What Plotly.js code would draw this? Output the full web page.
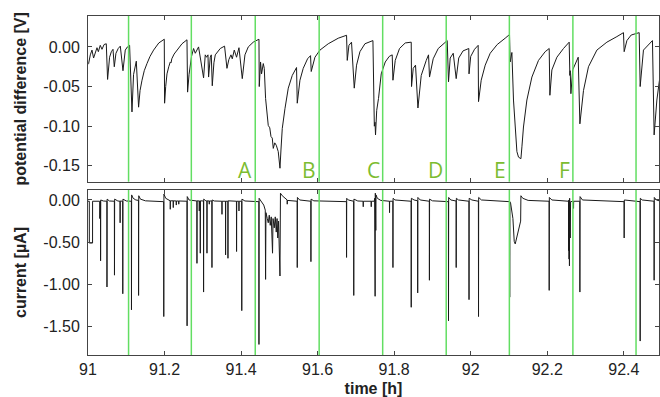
<!DOCTYPE html>
<html>
<head>
<meta charset="utf-8">
<script src="https://cdn.plot.ly/plotly-3.0.1.min.js"></script>
<style>html,body{margin:0;padding:0;background:#fff;}#chart{width:660px;height:397px;}</style>
</head>
<body>
<div id="chart"></div>
<script>
// ---- data: potential difference [V] vs time [h] ----
const potentialPts = [
[91.0000,-0.022],[91.0016,-0.021],[91.0060,-0.010],[91.0104,-0.004],[91.0146,-0.014],[91.0235,-0.001],
[91.0270,-0.006],[91.0320,0.002],[91.0366,-0.003],[91.0420,0.003],[91.0478,0.004],[91.0512,-0.041],
[91.0564,-0.013],[91.0610,-0.006],[91.0653,-0.003],[91.0687,-0.025],[91.0730,-0.008],[91.0790,-0.002],
[91.0844,0.001],[91.0914,-0.030],[91.0974,-0.004],[91.1030,0.000],[91.1087,0.002],[91.1149,-0.082],
[91.1190,-0.035],[91.1262,-0.018],[91.1322,-0.076],[91.1360,-0.055],[91.1411,-0.042],[91.1470,-0.030],
[91.1541,-0.021],[91.1620,-0.012],[91.1714,-0.004],[91.1850,0.005],[91.1993,0.0097],[91.2001,-0.071],
[91.2030,-0.050],[91.2064,-0.034],[91.2110,-0.025],[91.2150,-0.019],[91.2170,-0.020],[91.2190,-0.015],
[91.2250,-0.009],[91.2325,-0.004],[91.2456,0.004],[91.2586,0.009],[91.2602,-0.057],[91.2640,-0.035],
[91.2705,-0.012],[91.2759,-0.002],[91.2803,-0.008],[91.2889,0.000],[91.3020,-0.039],[91.3064,-0.010],
[91.3100,-0.013],[91.3135,-0.010],[91.3151,-0.038],[91.3195,-0.013],[91.3221,-0.010],[91.3247,-0.049],
[91.3290,-0.020],[91.3326,-0.010],[91.3456,-0.002],[91.3568,0.001],[91.3631,-0.027],[91.3680,-0.016],
[91.3736,-0.010],[91.3770,-0.015],[91.3822,-0.004],[91.3882,-0.013],[91.3945,-0.001],[91.4031,-0.040],
[91.4070,-0.018],[91.4101,-0.010],[91.4188,0.000],[91.4318,0.006],[91.4467,0.0097],[91.4475,-0.050],
[91.4509,-0.019],[91.4535,-0.034],[91.4580,-0.021],[91.4606,-0.027],[91.4640,-0.065],[91.4666,-0.082],
[91.4684,-0.086],[91.4710,-0.099],[91.4749,-0.102],[91.4781,-0.113],[91.4815,-0.115],[91.4841,-0.128],
[91.4880,-0.121],[91.4919,-0.124],[91.4971,-0.132],[91.5016,-0.153],[91.5042,-0.130],[91.5076,-0.103],
[91.5146,-0.078],[91.5233,-0.052],[91.5337,-0.036],[91.5449,-0.026],[91.5468,-0.071],[91.5538,-0.042],
[91.5624,-0.027],[91.5737,-0.015],[91.5815,-0.011],[91.5833,-0.031],[91.5930,-0.013],[91.6061,-0.004],
[91.6278,0.004],[91.6539,0.011],[91.6756,0.0147],[91.6774,-0.017],[91.6818,0.002],[91.6886,0.006],
[91.6957,-0.052],[91.7017,-0.023],[91.7106,-0.006],[91.7236,0.004],[91.7445,0.008],[91.7482,-0.100],
[91.7500,-0.095],[91.7513,-0.111],[91.7544,-0.080],[91.7591,-0.065],[91.7662,-0.034],[91.7767,-0.019],
[91.7871,-0.012],[91.7949,-0.010],[91.7968,-0.042],[91.8028,-0.017],[91.8140,-0.002],[91.8289,0.005],
[91.8446,0.006],[91.8454,-0.050],[91.8498,-0.027],[91.8558,-0.023],[91.8621,-0.077],[91.8707,-0.036],
[91.8838,-0.017],[91.8898,-0.010],[91.8924,-0.038],[91.9020,-0.015],[91.9151,-0.002],[91.9386,0.008],
[91.9420,-0.044],[91.9464,-0.014],[91.9543,-0.008],[91.9621,-0.040],[91.9687,-0.014],[91.9800,-0.005],
[91.9950,-0.002],[91.9956,-0.034],[92.0000,-0.012],[92.0100,-0.003],[92.0195,0.002],[92.0204,-0.069],
[92.0274,-0.042],[92.0379,-0.023],[92.0509,-0.008],[92.0692,0.003],[92.0901,0.011],[92.1014,0.0156],
[92.1032,-0.019],[92.1076,-0.007],[92.1118,-0.067],[92.1163,-0.109],[92.1207,-0.132],[92.1249,-0.139],
[92.1312,-0.141],[92.1338,-0.126],[92.1379,-0.101],[92.1468,-0.067],[92.1599,-0.038],[92.1771,-0.017],
[92.1946,-0.006],[92.2051,-0.002],[92.2069,-0.061],[92.2121,-0.029],[92.2252,-0.013],[92.2424,-0.002],
[92.2573,0.006],[92.2591,-0.036],[92.2600,-0.030],[92.2618,-0.059],[92.2665,-0.029],[92.2809,-0.013],
[92.2853,-0.097],[92.2947,-0.055],[92.3077,-0.025],[92.3297,-0.004],[92.3558,0.006],[92.3819,0.013],
[92.3992,0.018],[92.4010,-0.006],[92.4081,0.008],[92.4193,0.015],[92.4402,0.018],[92.4428,-0.050],
[92.4514,-0.004],[92.4749,0.008],[92.4793,-0.111],[92.4864,-0.067],[92.4932,-0.042]
];

// ---- data: current [µA] vs time [h] ----
const currentPts = [
[91.0000,-0.015],[91.0034,-0.015],[91.0035,-0.51],[91.0119,-0.51],[91.0120,-0.015],
[91.0305,-0.015],[91.0308,-0.22],[91.0312,-0.015],
[91.0326,-0.015],[91.0329,-0.72],[91.0333,0.00],[91.0400,-0.012],
[91.0493,-0.015],[91.0496,-1.03],[91.0500,0.01],[91.0560,-0.012],
[91.0689,-0.015],[91.0692,-0.89],[91.0696,0.01],[91.0780,-0.012],
[91.0836,-0.015],[91.0839,-0.27],[91.0843,-0.012],
[91.0906,-0.015],[91.0909,-1.11],[91.0913,0.01],[91.1000,-0.012],
[91.1133,-0.015],[91.1136,-1.30],[91.1140,0.06],[91.1180,0.02],[91.1250,0.0],
[91.1319,-0.005],[91.1322,-1.13],[91.1326,0.05],[91.1370,0.01],[91.1500,-0.01],[91.1970,-0.02],
[91.1977,-0.02],[91.1980,-1.38],[91.1984,0.07],[91.2030,0.02],[91.2100,0.0],
[91.2148,-0.01],[91.2150,-0.11],[91.2153,-0.01],
[91.2226,-0.01],[91.2228,-0.09],[91.2231,-0.01],
[91.2305,-0.012],[91.2307,-0.06],[91.2310,-0.012],
[91.2370,-0.012],[91.2372,-0.05],[91.2375,-0.012],
[91.2586,-0.015],[91.2589,-1.49],[91.2593,0.04],[91.2640,0.0],
[91.2844,-0.012],[91.2847,-0.75],[91.2851,-0.01],
[91.2906,-0.012],[91.2908,-0.13],[91.2911,-0.012],
[91.2931,-0.012],[91.2934,-0.63],[91.2938,-0.01],
[91.3017,-0.012],[91.3020,-1.09],[91.3024,0.01],[91.3080,-0.01],
[91.3106,-0.012],[91.3109,-0.63],[91.3113,-0.01],
[91.3167,-0.012],[91.3169,-0.05],[91.3172,-0.012],
[91.3236,-0.012],[91.3239,-0.80],[91.3243,0.0],[91.3300,-0.012],
[91.3498,-0.015],[91.3501,-0.17],[91.3504,-0.015],
[91.3592,-0.015],[91.3595,-0.65],[91.3599,-0.015],
[91.3654,-0.015],[91.3657,-0.69],[91.3661,-0.01],
[91.3879,-0.015],[91.3882,-0.61],[91.3886,-0.015],
[91.3942,-0.015],[91.3945,-0.13],[91.3948,-0.015],
[91.4015,-0.015],[91.4018,-1.31],[91.4022,0.01],[91.4100,-0.012],
[91.4464,-0.02],[91.4467,-1.71],[91.4471,0.02],[91.4500,0.0],
[91.4553,-0.03],[91.4592,-0.06],[91.4632,-0.12],[91.4640,-0.94],[91.4650,-0.15],[91.4684,-0.22],
[91.4710,-0.27],[91.4736,-0.18],[91.4762,-0.30],[91.4788,-0.20],[91.4822,-0.63],[91.4835,-0.22],
[91.4867,-0.33],[91.4893,-0.20],[91.4919,-0.38],[91.4940,-0.22],[91.4958,-0.45],[91.4979,-0.25],
[91.4997,-0.50],[91.5016,-0.90],[91.5029,0.08],[91.5076,0.05],[91.5204,0.00],
[91.5206,-0.05],[91.5209,-0.005],
[91.5465,-0.015],[91.5468,-0.80],[91.5472,0.03],[91.5530,0.0],
[91.5822,-0.015],[91.5825,-0.73],[91.5829,0.01],[91.5900,-0.01],
[91.6753,-0.02],[91.6756,-0.68],[91.6760,0.02],[91.6800,0.0],
[91.6941,-0.015],[91.6944,-1.13],[91.6948,0.01],[91.7050,-0.012],
[91.7189,-0.015],[91.7192,-0.08],[91.7195,-0.015],
[91.7398,-0.015],[91.7401,-0.08],[91.7404,-0.015],
[91.7480,-0.015],[91.7485,-0.30],[91.7490,0.02],[91.7502,-1.14],[91.7508,0.08],[91.7520,-0.36],
[91.7526,0.06],[91.7560,0.02],[91.7650,-0.005],
[91.7876,-0.015],[91.7879,-0.15],[91.7882,-0.015],
[91.7965,-0.015],[91.7968,-0.80],[91.7972,0.02],[91.8020,0.0],
[91.8443,-0.015],[91.8446,-1.27],[91.8450,0.02],[91.8520,0.0],
[91.8612,-0.01],[91.8615,-1.10],[91.8619,0.03],[91.8680,0.0],
[91.8918,-0.015],[91.8921,-0.95],[91.8925,0.01],[91.9000,-0.01],
[91.9417,-0.02],[91.9420,-1.43],[91.9424,0.03],[91.9480,0.0],
[91.9618,-0.012],[91.9621,-0.80],[91.9625,0.02],[91.9680,0.0],
[91.9953,-0.015],[91.9956,-1.18],[91.9960,0.02],[92.0030,0.0],
[92.0201,-0.015],[92.0204,-1.38],[92.0208,0.03],[92.0280,0.0],
[92.1016,-0.02],[92.1019,-1.15],[92.1023,-0.02],[92.1040,-0.03],[92.1103,-0.22],[92.1137,-0.49],
[92.1163,-0.52],[92.1185,-0.48],[92.1207,-0.45],[92.1230,-0.40],[92.1249,-0.36],[92.1270,-0.33],
[92.1293,-0.30],[92.1305,-0.25],[92.1312,0.05],[92.1360,0.02],[92.1500,-0.005],
[92.2048,-0.015],[92.2051,-1.07],[92.2055,0.03],[92.2120,0.0],
[92.2555,-0.015],[92.2560,-0.60],[92.2565,0.0],[92.2570,-0.70],[92.2575,-0.05],[92.2580,-0.78],
[92.2585,0.02],[92.2590,-0.75],[92.2595,-0.05],[92.2600,-0.45],[92.2610,-0.02],
[92.2685,-0.015],[92.2687,-0.10],[92.2690,-0.015],
[92.2850,-0.015],[92.2853,-1.09],[92.2857,0.04],[92.2920,0.0],
[92.4007,-0.02],[92.4010,-0.45],[92.4014,0.0],
[92.4425,-0.02],[92.4428,-1.67],[92.4432,0.02],[92.4480,0.0],
[92.4790,-0.015],[92.4793,-0.95],[92.4797,0.03],[92.4850,0.0],[92.4930,-0.01]
];

// green marker lines (time [h]) and their letter labels
const greenLines = [91.106, 91.270, 91.437, 91.604, 91.770, 91.936, 92.101, 92.267, 92.432];
const eventLetters = ['A','B','C','D','E','F'];
const eventLineIdx = [2, 3, 4, 5, 6, 7];

// tick labels
const xTickVals = [91, 91.2, 91.4, 91.6, 91.8, 92, 92.2, 92.4];
const xTickText = ['91','91.2','91.4','91.6','91.8','92','92.2','92.4'];
const potTickVals = [0, -0.05, -0.10, -0.15];
const potTickText = ['0.00','-0.05','-0.10','-0.15'];
const curTickVals = [0, -0.5, -1.0, -1.5];
const curTickText = ['0.00','-0.50','-1.00','-1.50'];

const FONT = 'Liberation Sans, Arial, sans-serif';
const AX = '#444';
const GREEN = '#62de62';
const LETTER = '#7cbc30';
const xRange = [91, 92.492];

const traces = [
  {x: potentialPts.map(p=>p[0]), y: potentialPts.map(p=>p[1]), xaxis:'x', yaxis:'y',
   mode:'lines', line:{color:'#1a1a1a', width:1}, hoverinfo:'skip'},
  {x: currentPts.map(p=>p[0]), y: currentPts.map(p=>p[1]), xaxis:'x2', yaxis:'y2',
   mode:'lines', line:{color:'#1a1a1a', width:1}, hoverinfo:'skip'}
];

const shapes = [];
greenLines.forEach(t => {
  shapes.push({type:'line', xref:'x', yref:'y domain', x0:t, x1:t, y0:0, y1:1, line:{color:GREEN, width:1.5}, layer:'above'});
  shapes.push({type:'line', xref:'x2', yref:'y2 domain', x0:t, x1:t, y0:0, y1:1, line:{color:GREEN, width:1.5}, layer:'above'});
});

const annotations = eventLetters.map((L,i) => ({
  text:L, xref:'x', yref:'y domain', x:greenLines[eventLineIdx[i]], y:0,
  xanchor:'right', yanchor:'bottom', xshift:-1, yshift:-4, showarrow:false,
  font:{family:'Open Sans, Liberation Sans, sans-serif', size:21, color:LETTER}
}));

const axBase = {showline:true, linecolor:AX, linewidth:1, mirror:'ticks', ticks:'inside', ticklen:4,
  tickcolor:AX, tickwidth:1, zeroline:false, showgrid:false,
  tickfont:{family:FONT, size:16, color:'#222'}};

const layout = {
  width:660, height:397,
  margin:{l:88, r:1, t:16, b:42},
  paper_bgcolor:'#fff', plot_bgcolor:'#fff',
  showlegend:false,
  font:{family:FONT, color:'#222'},
  xaxis: Object.assign({}, axBase, {domain:[0,1], anchor:'y', range:xRange, tickvals:xTickVals, ticktext:xTickText, showticklabels:false}),
  yaxis: Object.assign({}, axBase, {domain:[0.5112,1], anchor:'x', range:[-0.170,0.039], tickvals:potTickVals, ticktext:potTickText,
    ticklabelstandoff:4,
    title:{text:'potential difference [V]', font:{family:FONT, size:16, color:'#222', weight:'bold'}, standoff:12}}),
  xaxis2: Object.assign({}, axBase, {domain:[0,1], anchor:'y2', range:xRange, tickvals:xTickVals, ticktext:xTickText,
    title:{text:'time [h]', font:{family:FONT, size:16, color:'#222', weight:'bold'}, standoff:5}}),
  yaxis2: Object.assign({}, axBase, {domain:[0,0.4867], anchor:'x2', range:[-1.835,0.118], tickvals:curTickVals, ticktext:curTickText,
    ticklabelstandoff:4,
    title:{text:'current [µA]', font:{family:FONT, size:16, color:'#222', weight:'bold'}, standoff:12}}),
  shapes: shapes,
  annotations: annotations
};

Plotly.newPlot('chart', traces, layout, {staticPlot:true, displayModeBar:false});
</script>
</body>
</html>
